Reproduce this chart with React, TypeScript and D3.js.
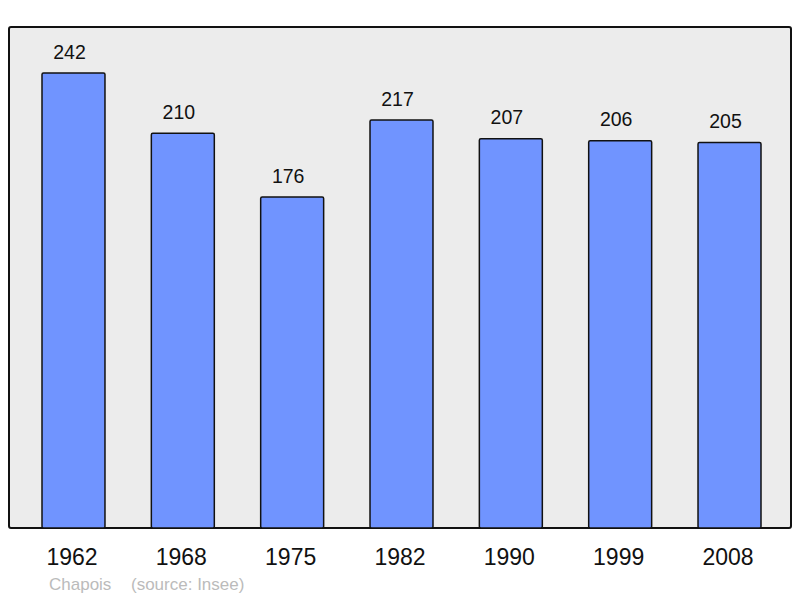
import React from "react";
import * as d3 from "d3";

const years = ["1962", "1968", "1975", "1982", "1990", "1999", "2008"];
const population = [242, 210, 176, 217, 207, 206, 205];
const townName = "Chapois";
const sourceText = "(source: Insee)";

export default function App() {
  const W = 800;
  const H = 598;
  const frame = { x: 9, y: 27, w: 782, h: 501 };
  const x = d3
    .scaleBand<string>()
    .domain(years)
    .range([42, 761])
    .paddingInner(0.424)
    .paddingOuter(0);
  const y = d3.scaleLinear().domain([0, 242]).range([528, 73]);
  const font = "'Liberation Sans', Arial, sans-serif";
  return (
    <svg
      width={W}
      height={H}
      style={{ position: "absolute", left: 0, top: 0 }}
      fontFamily={font}
    >
      <rect
        x={frame.x}
        y={frame.y}
        width={frame.w}
        height={frame.h}
        rx={2}
        fill="#ececec"
        stroke="#111"
        strokeWidth={2}
      />
      {years.map((yr, i) => {
        const bx = x(yr)!;
        const bw = x.bandwidth();
        const top = y(population[i]);
        return (
          <g key={yr}>
            <rect
              x={bx}
              y={top}
              width={bw}
              height={y(0) - top}
              rx={1.5}
              fill="#7094ff"
              stroke="#111"
              strokeWidth={1.5}
            />
            <text
              x={bx + bw / 2 - 4}
              y={top - 14.5}
              textAnchor="middle"
              fontSize={19.5}
              fill="#111"
            >
              {population[i]}
            </text>
            <text
              x={bx + bw / 2 - 1.5}
              y={565}
              textAnchor="middle"
              fontSize={23}
              fill="#111"
            >
              {yr}
            </text>
          </g>
        );
      })}
      <text x={49} y={590} fontSize={17} fill="#bbbbbb">
        {townName}
      </text>
      <text x={131} y={590} fontSize={17} fill="#bbbbbb">
        {sourceText}
      </text>
    </svg>
  );
}
